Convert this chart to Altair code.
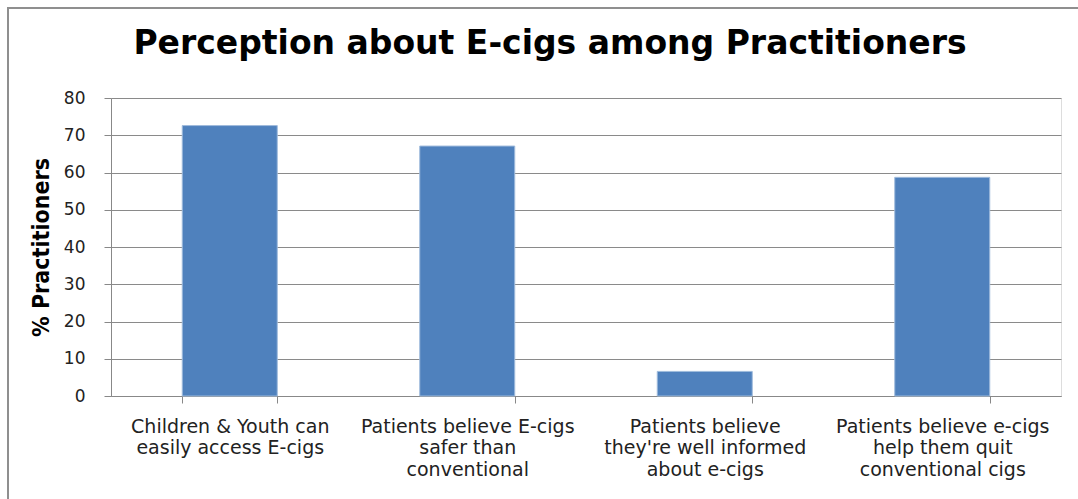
import altair as alt
import pandas as pd

categories = [
    "Children & Youth can|easily access E-cigs",
    "Patients believe E-cigs|safer than|conventional",
    "Patients believe|they're well informed|about e-cigs",
    "Patients believe e-cigs|help them quit|conventional cigs",
]
values = [72.6, 67.1, 6.6, 58.7]
y_ticks = [0, 10, 20, 30, 40, 50, 60, 70, 80]

df = pd.DataFrame({"category": categories, "value": values})
frame_df = pd.DataFrame({"k": [0]})

bars = alt.Chart(df).mark_bar(
    color="#4f81bd", stroke="#9fbbdc", strokeWidth=1
).encode(
    x=alt.X(
        "category:N",
        sort=categories,
        title=None,
        scale=alt.Scale(paddingInner=0.6, paddingOuter=0.3),
        axis=alt.Axis(
            labelExpr="split(datum.label, '|')",
            labelAngle=0,
            labelFont="DejaVu Sans",
            labelFontSize=19,
            labelColor="#222222",
            labelLineHeight=21.5,
            labelLimit=0,
            labelPadding=14,
            tickBand="extent",
            tickSize=7,
            tickColor="#888888",
            domainColor="#888888",
            grid=False,
        ),
    ),
    y=alt.Y(
        "value:Q",
        title="% Practitioners",
        scale=alt.Scale(domain=[0, 80], nice=False),
        axis=alt.Axis(
            values=y_ticks,
            labelFont="DejaVu Sans",
            labelFontSize=17,
            labelColor="#222222",
            labelPadding=19,
            tickSize=7,
            tickColor="#888888",
            domainColor="#888888",
            gridColor="#8a8a8a",
            gridWidth=1,
            titleFont="DejaVu Sans Condensed",
            titleFontSize=23,
            titleFontWeight="bold",
            titleColor="#000000",
            titlePadding=10,
        ),
    ),
)

frame = alt.Chart(frame_df).mark_rect(
    fill=None, stroke="#8f8f8f", strokeWidth=2, clip=False
).encode(
    x=alt.value(-103), x2=alt.value(980), y=alt.value(-90), y2=alt.value(420)
)

chart = alt.layer(bars, frame).properties(
    width=950,
    height=298,
    autosize=alt.AutoSizeParams(type="none"),
    padding={"left": 111, "top": 98, "right": 17, "bottom": 103},
    title=alt.Title(
        "Perception about E-cigs among Practitioners",
        font="DejaVu Sans",
        fontSize=33,
        fontWeight="bold",
        color="#000000",
        anchor="middle",
        baseline="alphabetic",
        dx=-36,
        offset=-80,
    ),
).configure_view(stroke=None).configure(background="white")

chart.save("out.html", embed_options={"renderer": "svg", "actions": False})
